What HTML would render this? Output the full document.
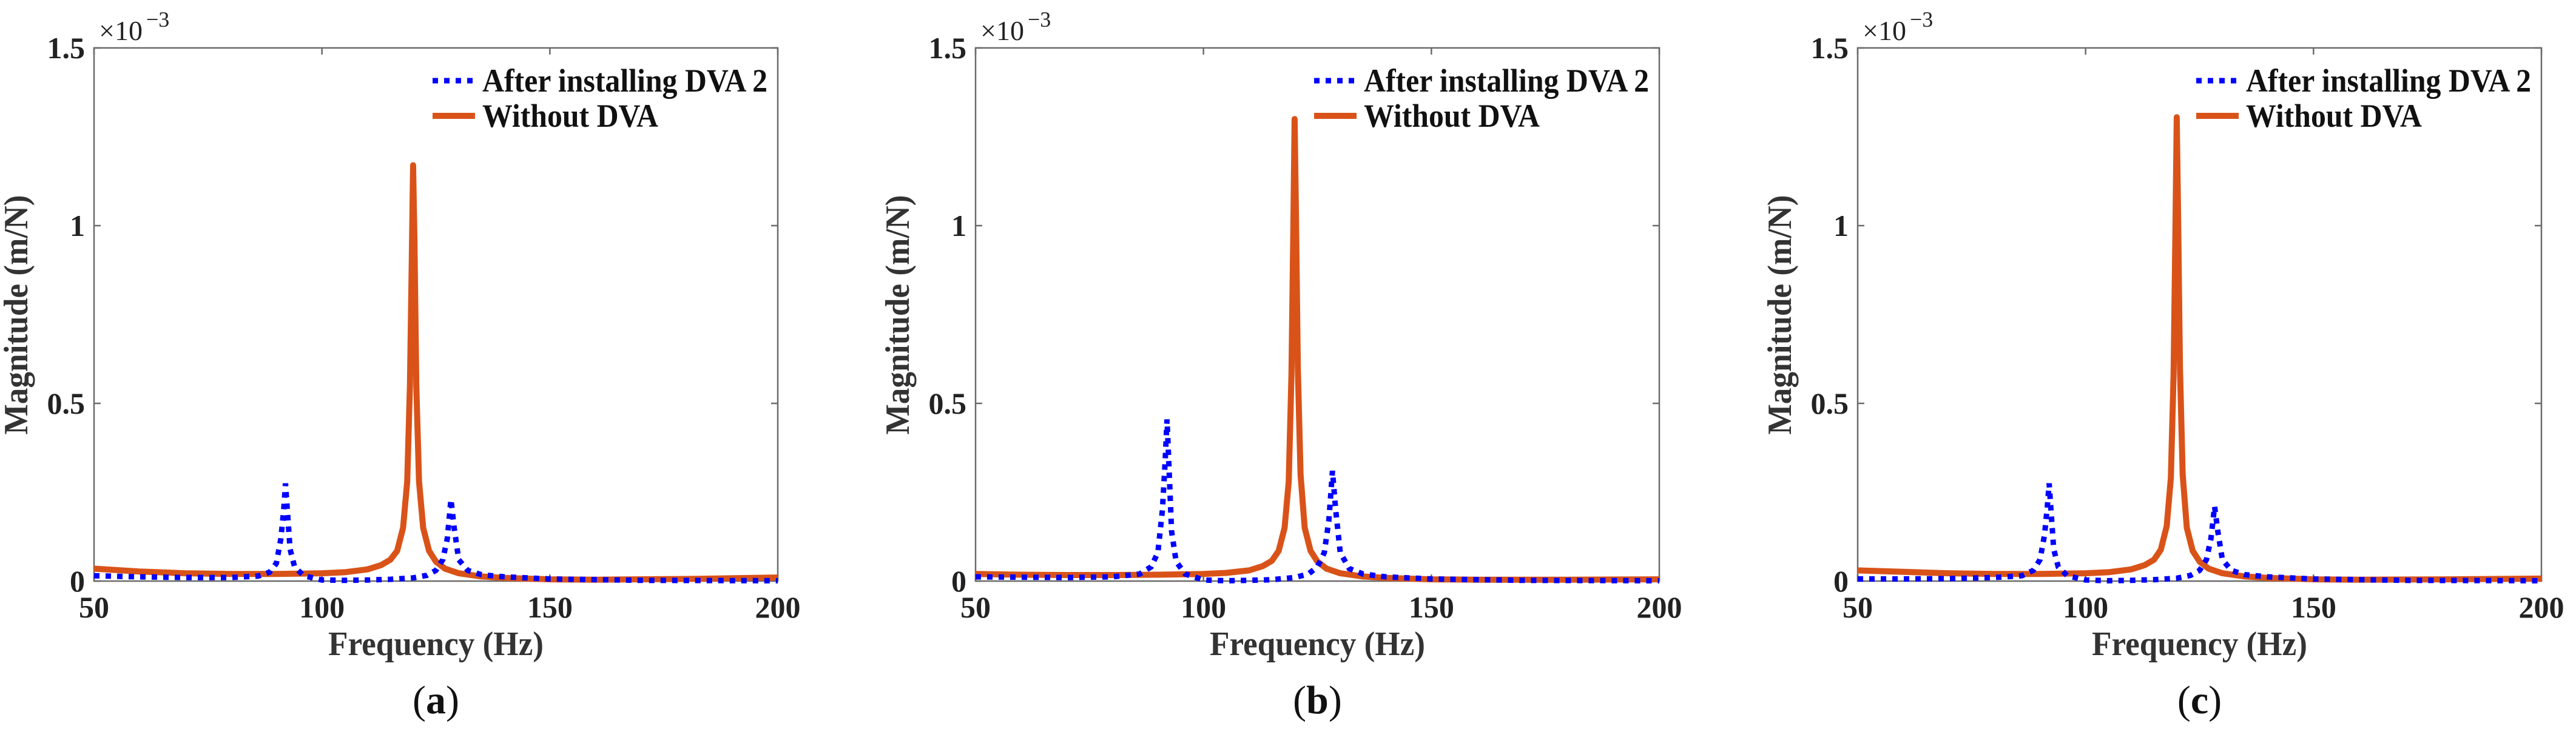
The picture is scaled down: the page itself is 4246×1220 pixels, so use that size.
<!DOCTYPE html>
<html><head><meta charset="utf-8">
<style>
html,body{margin:0;padding:0;background:#fff;}
svg, svg text{font-family:"Liberation Serif","Times New Roman",serif;}
</style></head>
<body>
<svg id="fig" width="4246" height="1215" viewBox="0 0 4246 1215" xmlns="http://www.w3.org/2000/svg" font-family="Liberation Serif, serif"></svg>
<script>
// ---- data (magnitude in units of 1e-3 m/N) ----
const xTicks = [50, 100, 150, 200];
const yTicks = [0, 0.5, 1, 1.5];
const yTickLabels = ["0", "0.5", "1", "1.5"];
const panelLabels = ["a", "b", "c"];
const legendLabels = ["After installing DVA 2", "Without DVA"];

const freqA_orange = [50,60,70,80,90,100,105,110,113,115,116.5,117.8,118.7,119.3,119.7,120,120.3,120.7,121.3,122.2,123.5,125,127,130,135,140,150,160,180,200];
const magA_orange  = [0.035,0.027,0.022,0.02,0.02,0.022,0.025,0.033,0.045,0.06,0.085,0.15,0.28,0.55,0.9,1.17,0.95,0.55,0.28,0.15,0.085,0.055,0.035,0.022,0.013,0.009,0.005,0.004,0.006,0.01];
const freqA_blue = [50,60,70,80,86,88.5,90,91,91.6,92,92.4,93,94,96,100,105,110,115,120,123,125,126.5,127.5,128.3,129,130,132,135,140,150,170,200];
const magA_blue  = [0.015,0.012,0.01,0.01,0.014,0.025,0.05,0.12,0.2,0.275,0.2,0.09,0.04,0.015,0.003,0.002,0.003,0.005,0.009,0.016,0.03,0.06,0.12,0.23,0.15,0.06,0.03,0.018,0.012,0.006,0.002,0.001];

const freqB_orange = [50,60,70,80,90,100,105,110,113,115,116.5,117.8,118.7,119.3,119.7,120,120.3,120.7,121.3,122.2,123.5,125,127,130,135,140,150,160,180,200];
const magB_orange  = [0.02,0.018,0.017,0.017,0.018,0.02,0.023,0.03,0.042,0.057,0.085,0.15,0.28,0.58,0.98,1.3,1.02,0.6,0.3,0.15,0.085,0.055,0.035,0.022,0.013,0.009,0.005,0.004,0.004,0.005];
const freqB_blue = [50,60,70,80,86,88.5,90,91,91.6,92,92.4,93,94,96,100,105,110,115,120,123,125,126.5,127.5,128.3,129,130,132,135,140,150,170,200];
const magB_blue  = [0.012,0.011,0.01,0.012,0.02,0.04,0.08,0.2,0.34,0.455,0.33,0.14,0.055,0.02,0.003,0.001,0.002,0.004,0.01,0.02,0.04,0.08,0.17,0.31,0.2,0.08,0.035,0.02,0.012,0.006,0.002,0.001];

const freqC_orange = [50,60,70,80,90,100,105,110,113,115,116.5,117.8,118.7,119.3,119.7,120,120.3,120.7,121.3,122.2,123.5,125,127,130,135,140,150,160,180,200];
const magC_orange  = [0.03,0.026,0.022,0.02,0.02,0.022,0.025,0.033,0.045,0.06,0.088,0.155,0.29,0.58,0.98,1.305,1.02,0.6,0.3,0.15,0.085,0.055,0.035,0.022,0.013,0.009,0.005,0.004,0.005,0.007];
const freqC_blue = [50,60,70,80,86,88.5,90,91,91.6,92,92.4,93,94,96,100,105,110,115,120,123,125,126.5,127.5,128.3,129,130,132,135,140,150,170,200];
const magC_blue  = [0.006,0.006,0.007,0.01,0.015,0.03,0.06,0.13,0.21,0.275,0.2,0.09,0.04,0.015,0.003,0.001,0.002,0.004,0.008,0.016,0.03,0.06,0.12,0.21,0.14,0.06,0.03,0.018,0.012,0.006,0.002,0.001];

const panelSeries = [
  {fo:freqA_orange, mo:magA_orange, fb:freqA_blue, mb:magA_blue},
  {fo:freqB_orange, mo:magB_orange, fb:freqB_blue, mb:magB_blue},
  {fo:freqC_orange, mo:magC_orange, fb:freqC_blue, mb:magC_blue}
];

// ---- layout ----
const NS = "http://www.w3.org/2000/svg";
const svg = document.getElementById("fig");
const lefts = [155, 1608, 3062];
const W = 1127, TOP = 79, BOT = 958;
const FONT = '"Liberation Serif", serif';

function mk(tag, attrs, parent, text){
  const e = document.createElementNS(NS, tag);
  for (const k in attrs) e.setAttribute(k, attrs[k]);
  if (tag === "text") e.setAttribute("font-family", FONT);
  if (text !== undefined) e.textContent = text;
  parent.appendChild(e);
  return e;
}

panelSeries.forEach((s, i) => {
  const L = lefts[i], R = L + W;
  const xs = f => L + (f - 50) / 150 * W;
  const ys = v => BOT - v / 1.5 * (BOT - TOP);
  const g = mk("g", {}, svg);
  
  

  const box = mk("rect", {x:L, y:TOP, width:W, height:BOT-TOP, fill:"none", stroke:"#6b6b6b", "stroke-width":2.5}, g);
  
  

  xTicks.forEach(t => {
    const x = xs(t);
    mk("line", {x1:x, y1:BOT, x2:x, y2:BOT-11, stroke:"#6b6b6b", "stroke-width":2.5}, g);
    mk("line", {x1:x, y1:TOP, x2:x, y2:TOP+11, stroke:"#6b6b6b", "stroke-width":2.5}, g);
    const tl = mk("text", {x:x, y:1018, "text-anchor":"middle", "font-size":50, "font-weight":"bold", fill:"#222"}, g, String(t));
    
    
  });
  yTicks.forEach((t, j) => {
    const y = ys(t);
    mk("line", {x1:L, y1:y, x2:L+11, y2:y, stroke:"#6b6b6b", "stroke-width":2.5}, g);
    mk("line", {x1:R, y1:y, x2:R-11, y2:y, stroke:"#6b6b6b", "stroke-width":2.5}, g);
    const tl = mk("text", {x:L-15, y:y+17, "text-anchor":"end", "font-size":50, "font-weight":"bold", fill:"#222"}, g, yTickLabels[j]);
    
    
  });
  const ex = mk("text", {x:L+8, y:66, "font-size":46, fill:"#222"}, g, "×10");
  
  
  mk("text", {x:L+86, y:44, "font-size":36, fill:"#222"}, g, "−3");

  const ptsB = s.fb.map((f,k) => xs(f).toFixed(1) + "," + ys(s.mb[k]).toFixed(1)).join(" ");
  const ptsO = s.fo.map((f,k) => xs(f).toFixed(1) + "," + ys(s.mo[k]).toFixed(1)).join(" ");
  const lo = mk("polyline", {points:ptsO, fill:"none", stroke:"#D95319", "stroke-width":10, "stroke-linejoin":"round"}, g);
  
  
  const lb = mk("polyline", {points:ptsB, fill:"none", stroke:"#0000FF", "stroke-width":9, "stroke-dasharray":"9 10"}, g);
  
  

  const lg = mk("g", {}, g);
  
  
  mk("line", {x1:L+558, y1:133, x2:L+628, y2:133, stroke:"#0000FF", "stroke-width":9, "stroke-dasharray":"9 10"}, lg);
  mk("line", {x1:L+558, y1:191, x2:L+628, y2:191, stroke:"#D95319", "stroke-width":10}, lg);
  const t1 = mk("text", {x:L+640, y:151, "font-size":54, "font-weight":"bold", fill:"#111", textLength:470, lengthAdjust:"spacingAndGlyphs"}, lg, legendLabels[0]);
  
  
  const t2 = mk("text", {x:L+640, y:209, "font-size":54, "font-weight":"bold", fill:"#111", textLength:290, lengthAdjust:"spacingAndGlyphs"}, lg, legendLabels[1]);
  
  

  const xt = mk("text", {x:L+W/2, y:1080, "text-anchor":"middle", "font-size":56, "font-weight":"bold", fill:"#333", textLength:355, lengthAdjust:"spacingAndGlyphs"}, g, "Frequency (Hz)");
  
  
  const yx = L - 110, yy = 519;
  const yt = mk("text", {x:yx, y:yy, "text-anchor":"middle", "font-size":56, "font-weight":"bold", fill:"#333", transform:"rotate(-90 "+yx+" "+yy+")", textLength:395, lengthAdjust:"spacingAndGlyphs"}, g, "Magnitude (m/N)");
  
  

  const pl = mk("text", {x:L+W/2, y:1176, "text-anchor":"middle", "font-size":66, fill:"#111"}, g);
  
  
  mk("tspan", {}, pl, "(");
  mk("tspan", {"font-weight":"bold"}, pl, panelLabels[i]);
  mk("tspan", {}, pl, ")");
});
</script>
</body></html>
